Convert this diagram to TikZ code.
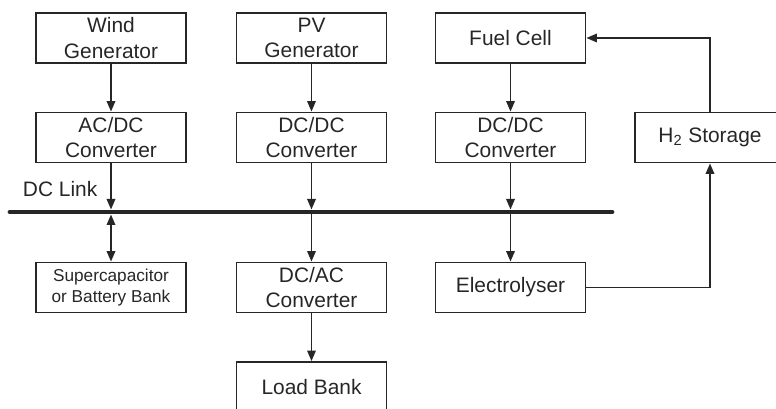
\documentclass[tikz,border=0pt]{standalone}
\usepackage{fontspec}
\setmainfont{Liberation Sans}
\usetikzlibrary{arrows.meta}

\begin{document}
\begin{tikzpicture}[>={Triangle[length=6pt,width=4.8pt]}, line width=1.1pt, color=black!85,
    block/.style={draw, line width=1pt, minimum width=3cm, minimum height=1cm, inner sep=0pt,
        align=center, font=\fontsize{11.9}{14.3}\selectfont},
    smallblock/.style={block, font=\fontsize{9.8}{12}\selectfont}]
    \useasboundingbox (0,0) rectangle (15.52,-8.18);

    % Sources
    \node[block] (wind) at (2.22,-0.76) {Wind\\Generator};
    \node[block] (pv)   at (6.23,-0.76) {PV\\Generator};
    \node[block] (fc)   at (10.21,-0.76) {Fuel Cell};

    % Converters
    \node[block] (acdc)  at (2.22,-2.75) {AC/DC\\Converter};
    \node[block] (dcdc1) at (6.23,-2.75) {DC/DC\\Converter};
    \node[block] (dcdc2) at (10.21,-2.75) {DC/DC\\Converter};
    \node[block] (h2)    at (14.2,-2.75) {H\textsubscript{2} Storage};

    % DC link bus
    \coordinate (busL) at (0.2,-4.24);
    \coordinate (busR) at (12.24,-4.24);
    \coordinate (b1) at (2.22,-4.24);
    \coordinate (b2) at (6.23,-4.24);
    \coordinate (b3) at (10.21,-4.24);
    \draw[line width=2.8pt, line cap=round] (busL) -- (busR);
    \node[anchor=base west, inner sep=0pt, font=\fontsize{11.9}{14.3}\selectfont] (dclink) at (0.44,-3.94) {DC Link};

    % Loads and storage
    \node[smallblock] (sc)    at (2.22,-5.75) {Supercapacitor\\or Battery Bank};
    \node[block] (dcac)       at (6.23,-5.75) {DC/AC\\Converter};
    \node[block] (elec)       at (10.21,-5.75) {Electrolyser};
    \node[block] (load)       at (6.23,-7.74) {Load Bank};

    % Connectors
    \draw[->] (wind) -- (acdc);
    \draw[->] (pv) -- (dcdc1);
    \draw[->] (fc) -- (dcdc2);
    \draw[->, shorten >=1.4pt] (acdc) -- (b1);
    \draw[->, shorten >=1.4pt] (dcdc1) -- (b2);
    \draw[->, shorten >=1.4pt] (dcdc2) -- (b3);
    \draw[<->, shorten <=1.4pt] (b1) -- (sc);
    \draw[->] (b2) -- (dcac);
    \draw[->] (b3) -- (elec);
    \draw[->] (dcac) -- (load);
    \draw[->] (elec.east) -| (h2.south);
    \draw[->] (h2.north) |- (fc.east);
\end{tikzpicture}
\end{document}
